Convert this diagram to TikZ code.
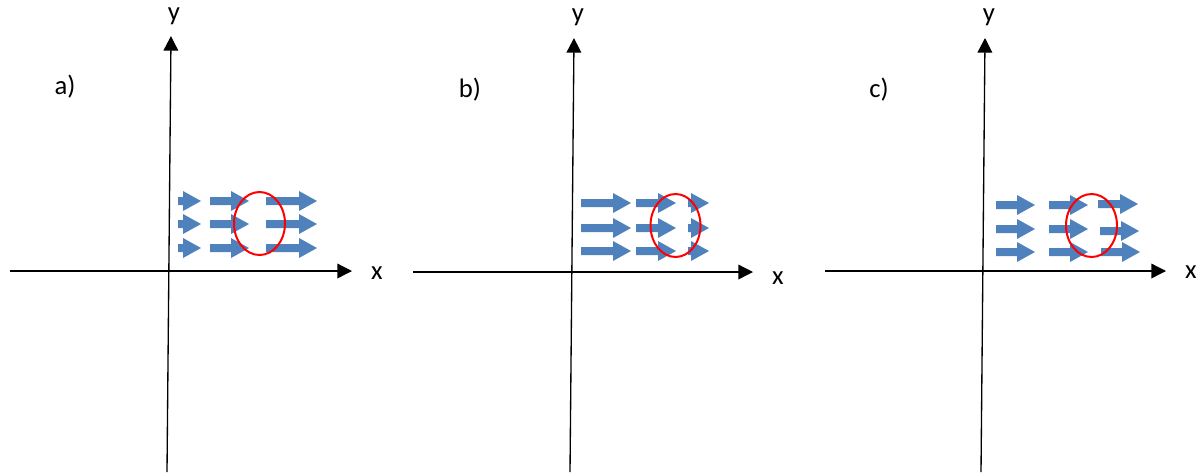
\documentclass[tikz,border=0pt]{standalone}
\usepackage{fontspec}
\setmainfont{Carlito}
\usetikzlibrary{arrows.meta}
\definecolor{flowblue}{HTML}{4F81BD}
\tikzset{
  axis/.style={line width=1pt, -{Triangle[length=11pt,width=11pt]}},
  ring/.style={draw=red, line width=1.5pt},
  lbl/.style={font=\fontsize{20}{24}\selectfont, inner sep=0pt},
}
% block arrow: start x, end x, y (pixel units)
\newcommand{\flowarrow}[3]{%
  \fill[flowblue] ({#1},{#3-4}) -- ({#2-18},{#3-4}) -- ({#2-18},{#3-10})
    -- ({#2},{#3}) -- ({#2-18},{#3+10}) -- ({#2-18},{#3+4})
    -- ({#1},{#3+4}) -- cycle;}
\begin{document}
\begin{tikzpicture}[x=0.75pt, y=-0.75pt]
\useasboundingbox (0,0) rectangle (1198,472);

% panel a
\coordinate (ay0) at (167,472);
\coordinate (ay1) at (171,36);
\coordinate (ax0) at (10,271);
\coordinate (ax1) at (352,271);
\draw[axis] (ay0) -- (ay1);
\draw[axis] (ax0) -- (ax1);
\node[lbl] (ay) at (174,16) {y};
\node[lbl] (ax) at (377,273) {x};
\node[lbl] (alab) at (65,87) {a)};
\foreach \y in {201,224,248} {
  \flowarrow{178}{201}{\y}
  \flowarrow{210}{249}{\y}
  \flowarrow{266}{317}{\y}
}
\draw[ring] (259.5,223.5) ellipse (25.5 and 31.5);

% panel b
\coordinate (by0) at (570,472);
\coordinate (by1) at (574,38);
\coordinate (bx0) at (413,272);
\coordinate (bx1) at (753,272);
\draw[axis] (by0) -- (by1);
\draw[axis] (bx0) -- (bx1);
\node[lbl] (by) at (578,17) {y};
\node[lbl] (bx) at (778,278) {x};
\node[lbl] (blab) at (470,90) {b)};
\foreach \y in {203,228,251} {
  \flowarrow{581}{631}{\y}
  \flowarrow{636}{676}{\y}
  \flowarrow{688}{709}{\y}
}
\draw[ring] (675.5,225.5) ellipse (25 and 31.5);

% panel c
\coordinate (cy0) at (981,472);
\coordinate (cy1) at (985,38);
\coordinate (cx0) at (825,271);
\coordinate (cx1) at (1166,271);
\draw[axis] (cy0) -- (cy1);
\draw[axis] (cx0) -- (cx1);
\node[lbl] (cy) at (989,17) {y};
\node[lbl] (cx) at (1191,272) {x};
\node[lbl] (clab) at (879,90) {c)};
\foreach \y in {205,229,252} {
  \flowarrow{996}{1035}{\y}
  \flowarrow{1049}{1088}{\y}
}
\flowarrow{1098}{1138}{204}
\flowarrow{1100}{1139}{231}
\flowarrow{1101}{1140}{252}
\draw[ring] (1091.5,225.5) ellipse (25.5 and 31.5);
\end{tikzpicture}
\end{document}
